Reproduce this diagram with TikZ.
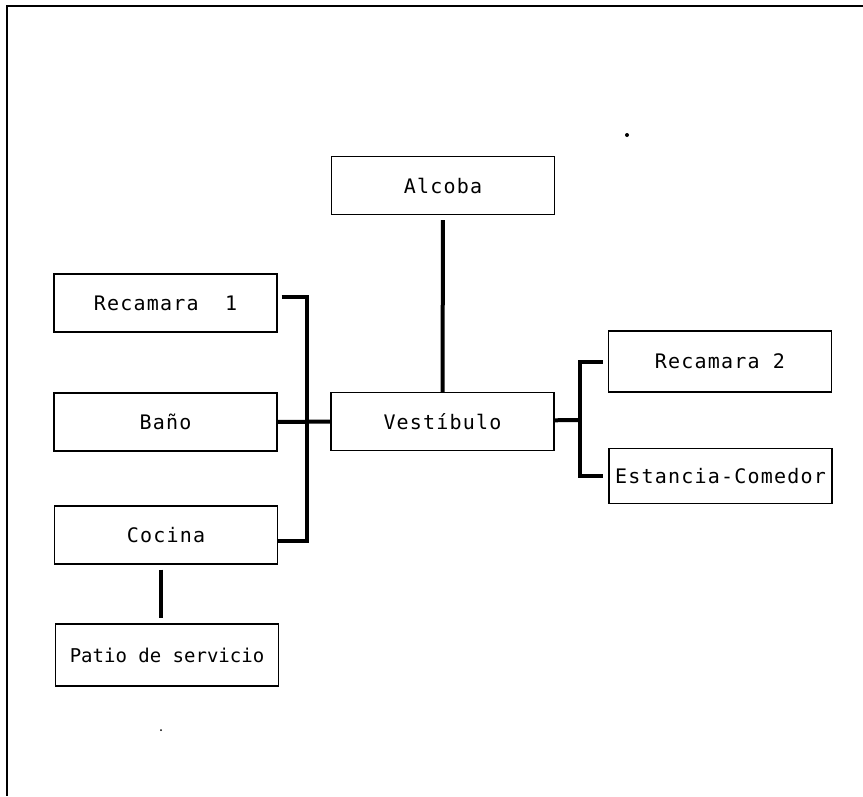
\documentclass[tikz,border=0pt]{standalone}
\usepackage{fontspec}
\newfontfamily\roomfont[LetterSpace=6]{DejaVu Sans Mono}
\newfontfamily\patiofont{DejaVu Sans Mono}

\begin{document}
\begin{tikzpicture}[x=1pt,y=-1pt,
    room/.style={draw,line width=1.2pt,minimum width=223pt,minimum height=58pt,inner sep=0pt,
      font=\roomfont\fontsize{20}{24}\selectfont},
    link/.style={line width=4pt}]
        \useasboundingbox (0,0) rectangle (863,796);
        \draw[line width=1.3pt] (863,6) -- (7,6) -- (7,796);

        \node[room] (alcoba) at (443,185.5) {Alcoba};
        \node[room] (rec1) at (165.5,303) {Recamara~~1};
        \node[room] (bano) at (165.5,422) {Baño};
        \node[room] (cocina) at (166,535) {Cocina};
        \node[room,minimum height=62pt,font=\patiofont\fontsize{19}{24}\selectfont] (patio) at (167,655) {Patio de servicio};
        \node[room] (vest) at (442.5,421.5) {Vestíbulo};
        \node[room,minimum height=61pt] (rec2) at (720,361.5) {Recamara 2};
        \node[room,minimum height=55pt] (estancia) at (720.5,476) {Estancia-Comedor};

        \coordinate (busL) at (307,422);
        \coordinate (busR) at (580,420);

        % links
        \draw[link,shorten <=5pt] (alcoba) -- (vest);
        \draw[link,shorten <=4pt] ([yshift=6pt]rec1.east) -| (busL) |- ([yshift=-6pt]cocina.east);
        \draw[link] (bano) -- (vest);
        \draw[link] (vest) -- (busR);
        \draw[link,shorten <=5pt,shorten >=5pt] (rec2.west) -| (busR) |- (estancia.west);
        \draw[link,shorten <=5pt,shorten >=5pt] ([xshift=-5pt]cocina.south) -- ([xshift=-6pt]patio.north);

        \fill (627,135) circle (2pt);
        \fill (161,730) circle (1pt);
      \end{tikzpicture}
\end{document}
